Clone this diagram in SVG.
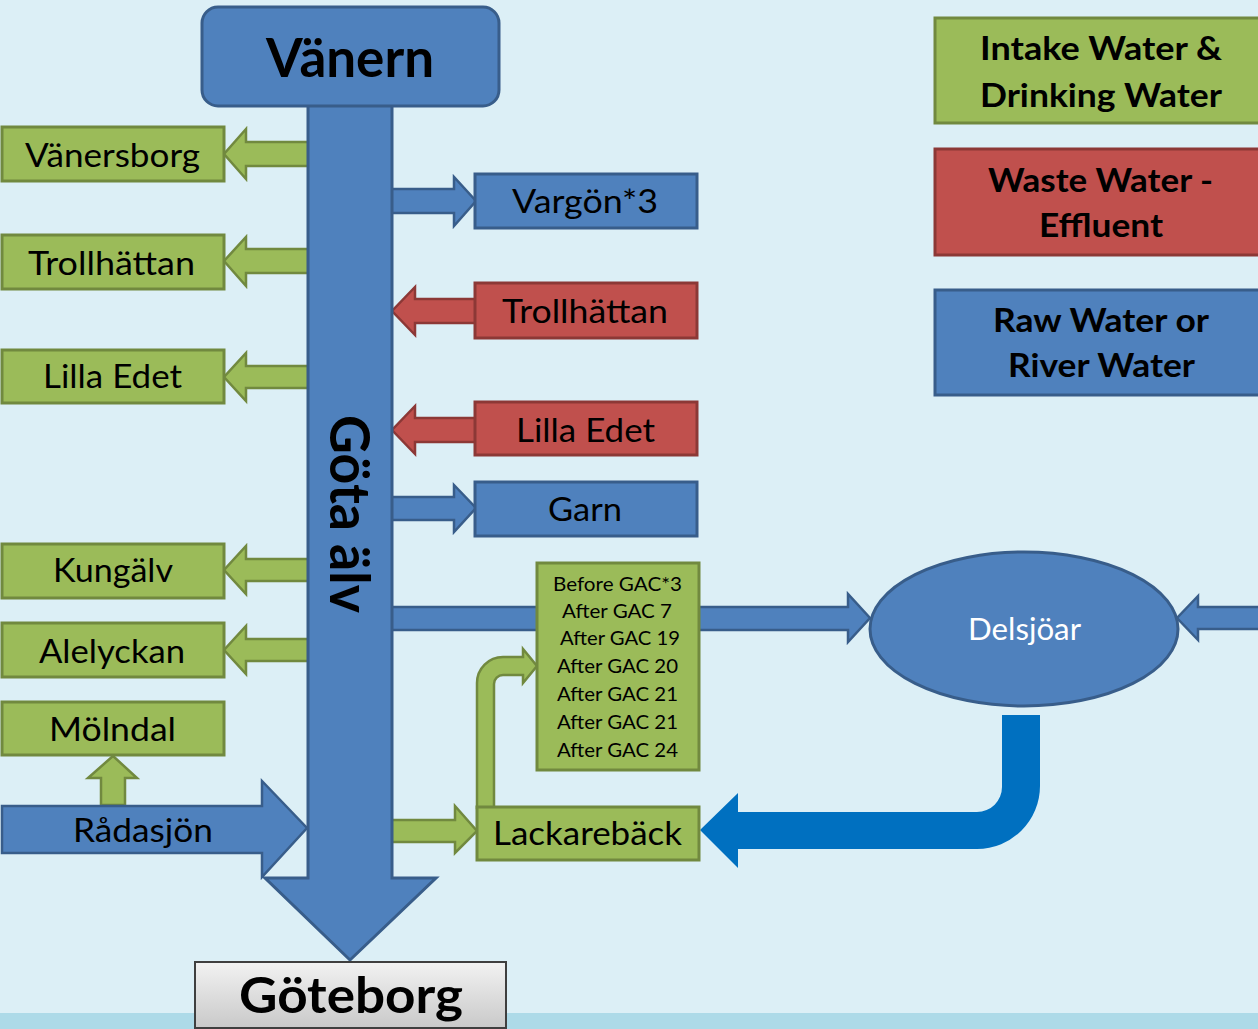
<svg xmlns="http://www.w3.org/2000/svg" width="1258" height="1029" viewBox="0 0 1258 1029">
<defs>
<style>
text{font-family:"Lato","Liberation Sans",sans-serif;fill:#000;text-anchor:middle}
.b{font-weight:bold}
.g{fill:#9BBB59;stroke:#71893F;stroke-width:3}
.ga{fill:#9BBB59;stroke:#71893F;stroke-width:2.5}
.bl{fill:#4F81BD;stroke:#385D8A;stroke-width:3}
.bla{fill:#4F81BD;stroke:#385D8A;stroke-width:2.5}
.r{fill:#C0504D;stroke:#8C3836;stroke-width:3}
.ra{fill:#C0504D;stroke:#8C3836;stroke-width:2.5}
.t32{font-size:32px}
.t19{font-size:19px}
</style>
<linearGradient id="gray" x1="0" y1="0" x2="0" y2="1">
<stop offset="0" stop-color="#F2F2F2"/>
<stop offset="1" stop-color="#C9C9C9"/>
</linearGradient>
</defs>
<rect x="0" y="0" width="1258" height="1029" fill="#DCEFF6"/>
<rect x="0" y="1013" width="1258" height="16" fill="#ADDAE8"/>

<g id="connectors">
<path class="ga" d="M310 142 L246 142 L246 129 L224 154 L246 179 L246 166 L310 166 Z"/>
<path class="ga" d="M310 249 L246 249 L246 237 L224 261 L246 286 L246 273 L310 273 Z"/>
<path class="ga" d="M310 366 L246 366 L246 353 L224 377 L246 401 L246 388 L310 388 Z"/>
<path class="ga" d="M310 559 L246 559 L246 546 L224 570 L246 594 L246 581 L310 581 Z"/>
<path class="ga" d="M310 639 L246 639 L246 626 L224 650 L246 674 L246 661 L310 661 Z"/>
<path class="ga" d="M101 805 L101 778 L88 778 L113 756 L137 778 L125 778 L125 805 Z"/>
<path class="bla" d="M2 806 L262 806 L262 781 L307 828 L262 877 L262 853 L2 853 Z"/>
<path class="bla" d="M390 189 L454 189 L454 177 L476 201 L454 226 L454 213 L390 213 Z"/>
<path class="bla" d="M390 497 L454 497 L454 485 L476 508 L454 532 L454 520 L390 520 Z"/>
<path class="ra" d="M477 299 L415 299 L415 287 L392 311 L415 335 L415 323 L477 323 Z"/>
<path class="ra" d="M477 418 L415 418 L415 406 L392 430 L415 454 L415 442 L477 442 Z"/>
<path class="bla" d="M390 607 L848 607 L848 594 L870 618 L848 642 L848 630 L390 630 Z"/>
<path class="bla" d="M1262 607 L1198 607 L1198 596 L1177 618 L1198 640 L1198 629 L1262 629 Z"/>
<path class="ga" d="M390 820 L455 820 L455 806 L477 831 L455 853 L455 842 L390 842 Z"/>
<path class="ga" d="M477 808 L477 683 A26 26 0 0 1 503 657 L523 657 L523 649 L537 666 L523 683 L523 675 L503 675 A9 9 0 0 0 494 684 L494 808 Z"/>
<path fill="#0070C0" d="M1002 715 L1040 715 L1040 786 A63 63 0 0 1 977 849 L738 849 L738 868 L700 830 L738 793 L738 812 L977 812 A25 25 0 0 0 1002 787 Z"/>
</g>

<g id="gota-alv">
<path class="bl" d="M308 100 L392 100 L392 878 L436 878 L350 960 L265 878 L308 878 Z"/>
<text class="b" transform="translate(330,514) rotate(90)" x="0" y="0" font-size="56" textLength="198" lengthAdjust="spacingAndGlyphs">Göta älv</text>
</g>

<g id="vanern">
<rect class="bl" x="202" y="7" width="297" height="99" rx="16"/>
<text class="b" x="350" y="77" font-size="54" textLength="168" lengthAdjust="spacingAndGlyphs">Vänern</text>
</g>

<g id="vanersborg">
<rect class="g" x="2" y="127" width="222" height="54"/>
<text class="t32" x="112.5" y="167" textLength="175" lengthAdjust="spacingAndGlyphs">Vänersborg</text>
</g>
<g id="trollhattan-intake">
<rect class="g" x="2" y="235" width="222" height="54"/>
<text class="t32" x="111.5" y="275" textLength="167" lengthAdjust="spacingAndGlyphs">Trollhättan</text>
</g>
<g id="lilla-edet-intake">
<rect class="g" x="2" y="350" width="222" height="53"/>
<text class="t32" x="112.5" y="388" textLength="139" lengthAdjust="spacingAndGlyphs">Lilla Edet</text>
</g>
<g id="kungalv">
<rect class="g" x="2" y="544" width="222" height="54"/>
<text class="t32" x="113" y="582" textLength="120" lengthAdjust="spacingAndGlyphs">Kungälv</text>
</g>
<g id="alelyckan">
<rect class="g" x="2" y="623" width="222" height="54"/>
<text class="t32" x="112" y="663" textLength="146" lengthAdjust="spacingAndGlyphs">Alelyckan</text>
</g>
<g id="molndal">
<rect class="g" x="2" y="702" width="222" height="53"/>
<text class="t32" x="112.5" y="741" textLength="127" lengthAdjust="spacingAndGlyphs">Mölndal</text>
</g>
<g id="radasjon">
<text class="t32" x="143" y="842" textLength="140" lengthAdjust="spacingAndGlyphs">Rådasjön</text>
</g>

<g id="vargon">
<rect class="bl" x="475" y="174" width="222" height="54"/>
<text class="t32" x="585" y="213" textLength="146" lengthAdjust="spacingAndGlyphs">Vargön*3</text>
</g>
<g id="trollhattan-effluent">
<rect class="r" x="475" y="283" width="222" height="55"/>
<text class="t32" x="585" y="323" textLength="166" lengthAdjust="spacingAndGlyphs">Trollhättan</text>
</g>
<g id="lilla-edet-effluent">
<rect class="r" x="475" y="402" width="222" height="53"/>
<text class="t32" x="585.5" y="442" textLength="139" lengthAdjust="spacingAndGlyphs">Lilla Edet</text>
</g>
<g id="garn">
<rect class="bl" x="475" y="482" width="222" height="54"/>
<text class="t32" x="585" y="521" textLength="74" lengthAdjust="spacingAndGlyphs">Garn</text>
</g>

<g id="gac">
<rect class="g" x="537" y="563" width="162" height="207"/>
<text class="t19" x="617.5" y="591" textLength="129" lengthAdjust="spacingAndGlyphs">Before GAC*3</text>
<text class="t19" x="617" y="618" textLength="110" lengthAdjust="spacingAndGlyphs">After GAC 7</text>
<text class="t19" x="620" y="645" textLength="120" lengthAdjust="spacingAndGlyphs">After GAC 19</text>
<text class="t19" x="617.5" y="673" textLength="121" lengthAdjust="spacingAndGlyphs">After GAC 20</text>
<text class="t19" x="617.5" y="701" textLength="121" lengthAdjust="spacingAndGlyphs">After GAC 21</text>
<text class="t19" x="617.5" y="729" textLength="121" lengthAdjust="spacingAndGlyphs">After GAC 21</text>
<text class="t19" x="617.5" y="757" textLength="121" lengthAdjust="spacingAndGlyphs">After GAC 24</text>
</g>

<g id="lackareback">
<rect class="g" x="477" y="807" width="222" height="53"/>
<text class="t32" x="587.5" y="845" font-size="31" textLength="189" lengthAdjust="spacingAndGlyphs">Lackarebäck</text>
</g>

<g id="delsjoar">
<ellipse class="bl" cx="1024" cy="629" rx="154" ry="77"/>
<text x="1024.5" y="640" font-size="30" style="fill:#fff" textLength="113" lengthAdjust="spacingAndGlyphs">Delsjöar</text>
</g>

<g id="goteborg">
<rect x="195" y="962" width="311" height="66" fill="url(#gray)" stroke="#3F3F3F" stroke-width="2"/>
<text class="b" x="351" y="1013" font-size="50" textLength="224" lengthAdjust="spacingAndGlyphs">Göteborg</text>
</g>

<g id="legend-intake">
<rect class="g" x="935" y="18" width="330" height="105"/>
<text class="b" x="1101" y="60" font-size="32" textLength="242" lengthAdjust="spacingAndGlyphs">Intake Water &amp;</text>
<text class="b" x="1101" y="107" font-size="32" textLength="242" lengthAdjust="spacingAndGlyphs">Drinking Water</text>
</g>
<g id="legend-waste">
<rect class="r" x="935" y="149" width="330" height="106"/>
<text class="b" x="1100.5" y="192" font-size="32" textLength="225" lengthAdjust="spacingAndGlyphs">Waste Water -</text>
<text class="b" x="1101" y="237" font-size="32" textLength="124" lengthAdjust="spacingAndGlyphs">Effluent</text>
</g>
<g id="legend-raw">
<rect class="bl" x="935" y="290" width="330" height="105"/>
<text class="b" x="1101" y="332" font-size="32" textLength="216" lengthAdjust="spacingAndGlyphs">Raw Water or</text>
<text class="b" x="1101.5" y="377" font-size="32" textLength="187" lengthAdjust="spacingAndGlyphs">River Water</text>
</g>
</svg>
